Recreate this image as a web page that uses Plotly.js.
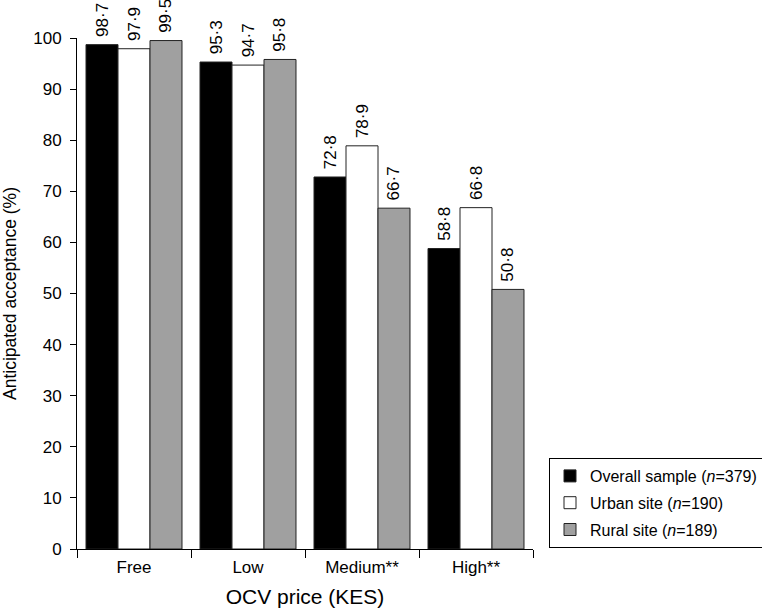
<!DOCTYPE html>
<html>
<head>
<meta charset="utf-8">
<script src="https://cdn.plot.ly/plotly-3.0.1.min.js"></script>
<style>html,body{margin:0;padding:0;background:#fff;}#chart{width:762px;height:614px;}</style>
</head>
<body>
<div id="chart"></div>
<script>
var categories = ["Free", "Low", "Medium**", "High**"];
var overall = [98.7, 95.3, 72.8, 58.8];
var urban = [97.9, 94.7, 78.9, 66.8];
var rural = [99.5, 95.8, 66.7, 50.8];
var seriesNames = ["Overall sample (<i>n</i>=379)", "Urban site (<i>n</i>=190)", "Rural site (<i>n</i>=189)"];
var yTicks = [0, 10, 20, 30, 40, 50, 60, 70, 80, 90, 100];

function fmt(v) { return "\u00A0" + v.toFixed(1).replace(".", "\u00B7"); }

var FONT = "Liberation Sans, Arial, Helvetica, sans-serif";
var fills = ["#000000", "#ffffff", "#a0a0a0"];
var seriesVals = [overall, urban, rural];
var traces = seriesVals.map(function (vals, i) {
  return {
    type: "bar",
    name: seriesNames[i],
    legendgroup: "g" + i,
    x: categories,
    y: vals,
    text: vals.map(fmt),
    textposition: "outside",
    textangle: -90,
    constraintext: "none",
    cliponaxis: false,
    textfont: {family: FONT, size: 17, color: "#000"},
    marker: {color: fills[i], line: {color: "#222", width: 1}},
    hoverinfo: "skip"
  };
});

var layout = {
  width: 762, height: 614,
  margin: {l: 77, r: 229, t: 38, b: 65, autoexpand: false},
  paper_bgcolor: "#fff", plot_bgcolor: "#fff",
  font: {family: FONT, size: 17, color: "#000"},
  barmode: "group",
  bargap: 0.158,
  bargroupgap: 0,
  showlegend: true,
  legend: {
    x: (549 - 77) / 456, y: (549 - 458) / 511, xanchor: "left", yanchor: "top",
    bordercolor: "#000", borderwidth: 1, bgcolor: "#fff",
    font: {size: 16}, traceorder: "grouped", tracegroupgap: 3
  },
  xaxis: {
    showline: true, linecolor: "#000", linewidth: 1,
    ticks: "outside", tickson: "boundaries", ticklen: 8, tickcolor: "#000",
    ticklabelstandoff: 3,
    showgrid: false, zeroline: false,
    tickfont: {size: 17},
    title: {text: "OCV price (KES)", font: {size: 21}, standoff: 12}
  },
  yaxis: {
    range: [0, 100], tickvals: yTicks,
    showline: true, linecolor: "#000", linewidth: 1,
    ticks: "outside", ticklen: 6, tickcolor: "#000",
    ticklabelstandoff: 5,
    showgrid: false, zeroline: false,
    tickfont: {size: 17},
    title: {text: "Anticipated acceptance (%)", font: {size: 17.5}, standoff: 16}
  }
};

Plotly.newPlot("chart", traces, layout, {displayModeBar: false, staticPlot: true});
</script>
</body>
</html>
